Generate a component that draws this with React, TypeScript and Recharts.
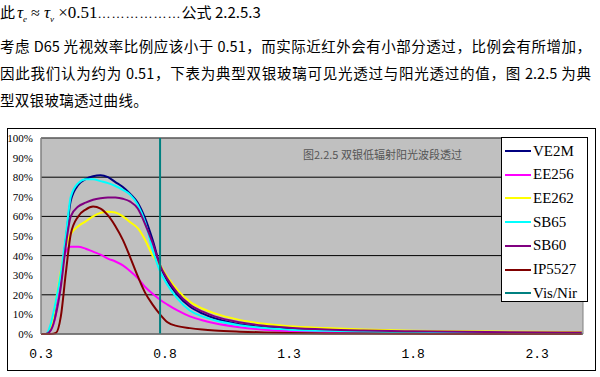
import React from 'react';
import { LineChart, Line, XAxis, YAxis, CartesianGrid, Legend, ReferenceArea } from 'recharts';

// wavelength (um) sampled along the curves
const wavelengths = [0.3, 0.32, 0.34, 0.36, 0.38, 0.4, 0.42, 0.45, 0.48, 0.51, 0.54, 0.57, 0.6, 0.63, 0.66, 0.69, 0.72, 0.75, 0.78, 0.81, 0.85, 0.9, 0.95, 1.0, 1.1, 1.2, 1.3, 1.45, 1.6, 1.8, 2.0, 2.2, 2.4, 2.48];

// transmittance in %
const ve2m = [0, 0, 3, 13, 27, 48, 68, 76, 79, 80.5, 81, 80, 77.5, 75, 71.5, 67, 59, 48, 35, 27, 20, 14, 10.5, 8, 5, 3.5, 2.6, 1.8, 1.4, 1.1, 0.9, 0.7, 0.6, 0.6];
const ee256 = [0, 0, 2, 10, 30, 42, 44.5, 44.5, 43.5, 42, 40.5, 38.5, 37, 35, 32, 28.5, 24, 20.5, 17.5, 15, 12, 9, 7, 5.5, 3.5, 2.2, 1.5, 1.0, 0.8, 0.6, 0.5, 0.4, 0.3, 0.3];
const ee262 = [0, 0, 3, 17, 32, 45, 51, 55, 57.5, 60, 61.8, 62.4, 62, 60, 57, 54, 48, 40, 35, 29, 22.5, 16.5, 13, 10.5, 7.2, 5.2, 3.9, 3, 2.3, 1.7, 1.4, 1.2, 1.0, 1.0];
const sb65 = [0, 0, 5.5, 17, 31, 50, 70, 77, 79, 79, 78, 77, 75.5, 73.5, 71, 66, 57, 43, 32, 25, 18, 12, 9, 7, 4.5, 3, 2.2, 1.6, 1.2, 0.9, 0.7, 0.5, 0.4, 0.4];
const sb60 = [0, 0, 2, 10, 24, 45, 60, 65, 67, 68.5, 69.3, 69.7, 69.6, 69, 67.5, 64, 56, 46.5, 35, 28, 21, 15, 11.5, 9, 6, 4.2, 3.2, 2.3, 1.8, 1.4, 1.1, 0.9, 0.8, 0.8];
const ip5527 = [0, 0, 0, 0.5, 9, 31, 51, 60, 63.5, 65, 64, 60.5, 55, 48, 39, 29.5, 21, 15, 10, 6, 4, 3, 2.3, 1.8, 1.2, 0.8, 0.5, 0.3, 0.2, 0.1, 0, 0, 0, 0];

// Vis/Nir boundary marker
const visNirX = [0.78, 0.78];
const visNirY = [0, 100];

const seriesNames = ['VE2M', 'EE256', 'EE262', 'SB65', 'SB60', 'IP5527', 'Vis/Nir'];
const xTicks = [0.3, 0.8, 1.3, 1.8, 2.3];
const yTicks = [0, 10, 20, 30, 40, 50, 60, 70, 80, 90, 100];

const data = wavelengths.map((x, i) => ({
  x,
  VE2M: ve2m[i],
  EE256: ee256[i],
  EE262: ee262[i],
  SB65: sb65[i],
  SB60: sb60[i],
  IP5527: ip5527[i],
}));

const visNirData = visNirX.map((x, i) => ({ x, v: visNirY[i] }));

const serif = '"Liberation Serif", "Times New Roman", serif';
const cjk = '"Noto Sans CJK SC", sans-serif';

const renderLegend = (props: any) => {
  const items = [...(props.payload || [])].sort(
    (a: any, b: any) => seriesNames.indexOf(a.value) - seriesNames.indexOf(b.value)
  );
  return (
    <div style={{ width: 87, height: 165, background: '#fff', border: '1px solid #000', boxSizing: 'border-box', position: 'relative' }}>
      {items.map((entry: any, i: number) => (
        <div key={entry.value} style={{ position: 'absolute', left: 3, top: 4 + i * 23.7, height: 18, display: 'flex', alignItems: 'center' }}>
          <span style={{ display: 'inline-block', width: 26, height: 2, background: entry.color }} />
          <span style={{ marginLeft: 2, fontFamily: serif, fontSize: 15, color: '#000' }}>{entry.value}</span>
        </div>
      ))}
    </div>
  );
};

function App() {
  return (
    <div style={{ position: 'absolute', left: 0, top: 0, width: 600, height: 377, background: '#fff', fontFamily: cjk, color: '#000' }}>
      <div style={{ position: 'absolute', left: 0, top: 2, whiteSpace: 'nowrap', fontSize: 15, lineHeight: '20px' }}>
        <span>此</span>
        <span style={{ fontFamily: serif, fontStyle: 'italic', fontSize: 17, marginLeft: 2 }}>τ</span>
        <sub style={{ fontFamily: serif, fontStyle: 'italic', fontSize: 9 }}>e</sub>
        <span style={{ fontFamily: serif, fontSize: 16 }}> ≈ </span>
        <span style={{ fontFamily: serif, fontStyle: 'italic', fontSize: 17 }}>τ</span>
        <sub style={{ fontFamily: serif, fontStyle: 'italic', fontSize: 9 }}>v</sub>
        <span style={{ fontFamily: serif, fontSize: 17 }}> ×0.51</span>
        <span style={{ fontFamily: serif, fontSize: 13, letterSpacing: 1 }}>………………</span>
        <span>公式 2.2.5.3</span>
      </div>
      <div style={{ position: 'absolute', left: 0, top: 36, width: 591, fontSize: 14.5, lineHeight: '20px', textAlign: 'justify', textAlignLast: 'justify' }}>
        考虑 D65 光视效率比例应该小于 0.51，而实际近红外会有小部分透过，比例会有所增加，
      </div>
      <div style={{ position: 'absolute', left: 0, top: 63, width: 591, fontSize: 14.5, lineHeight: '20px', textAlign: 'justify', textAlignLast: 'justify' }}>
        因此我们认为约为 0.51，下表为典型双银玻璃可见光透过与阳光透过的值，图 2.2.5 为典
      </div>
      <div style={{ position: 'absolute', left: 0, top: 90, fontSize: 14.5, lineHeight: '20px', letterSpacing: 0.3 }}>
        型双银玻璃透过曲线。
      </div>

      <div style={{ position: 'absolute', left: 7, top: 128, width: 589, height: 243, border: '1px solid #000', boxSizing: 'border-box' }}>
        <LineChart width={587} height={241} margin={{ top: 9, right: 12, left: 0, bottom: 6 }}>
          <CartesianGrid vertical={false} stroke="#000" fill="#C0C0C0" strokeOpacity={1} />
          <ReferenceArea x1={0.3} x2={2.485} y1={0} y2={100} fill="none" stroke="#808080" strokeWidth={1} ifOverflow="visible" />
          <XAxis
            type="number"
            dataKey="x"
            domain={[0.3, 2.485]}
            ticks={xTicks}
            allowDataOverflow
            tickLine={false}
            axisLine={{ stroke: '#808080' }}
            tickMargin={9}
            height={30}
            tick={{ fontSize: 13, fontFamily: '"Liberation Mono", monospace', fill: '#000' }}
            tickFormatter={(v: number) => v.toFixed(1)}
          />
          <YAxis
            type="number"
            domain={[0, 100]}
            ticks={yTicks}
            width={33}
            tickLine={false}
            axisLine={{ stroke: '#808080' }}
            tick={{ fontSize: 11, fontFamily: serif, fill: '#000' }}
            tickFormatter={(v: number) => `${v}%`}
          />
          <Legend layout="vertical" align="center" verticalAlign="middle" wrapperStyle={{ left: 493, top: 8, width: 87, height: 165 }} content={renderLegend} />
          <Line data={data} type="monotone" dataKey="VE2M" name="VE2M" stroke="#000080" strokeWidth={2} dot={false} isAnimationActive={false} />
          <Line data={data} type="monotone" dataKey="EE256" name="EE256" stroke="#FF00FF" strokeWidth={2} dot={false} isAnimationActive={false} />
          <Line data={data} type="monotone" dataKey="EE262" name="EE262" stroke="#FFFF00" strokeWidth={2} dot={false} isAnimationActive={false} />
          <Line data={data} type="monotone" dataKey="SB65" name="SB65" stroke="#00FFFF" strokeWidth={2} dot={false} isAnimationActive={false} />
          <Line data={data} type="monotone" dataKey="SB60" name="SB60" stroke="#800080" strokeWidth={2} dot={false} isAnimationActive={false} />
          <Line data={data} type="monotone" dataKey="IP5527" name="IP5527" stroke="#800000" strokeWidth={2} dot={false} isAnimationActive={false} />
          <Line data={visNirData} type="linear" dataKey="v" name="Vis/Nir" stroke="#008080" strokeWidth={2} dot={false} isAnimationActive={false} />
        </LineChart>
        <div style={{ position: 'absolute', left: 295, top: 17, fontSize: 11, color: '#555', whiteSpace: 'nowrap', pointerEvents: 'none' }}>
          图2.2.5 双银低辐射阳光波段透过
        </div>
      </div>
    </div>
  );
}

export default App;
